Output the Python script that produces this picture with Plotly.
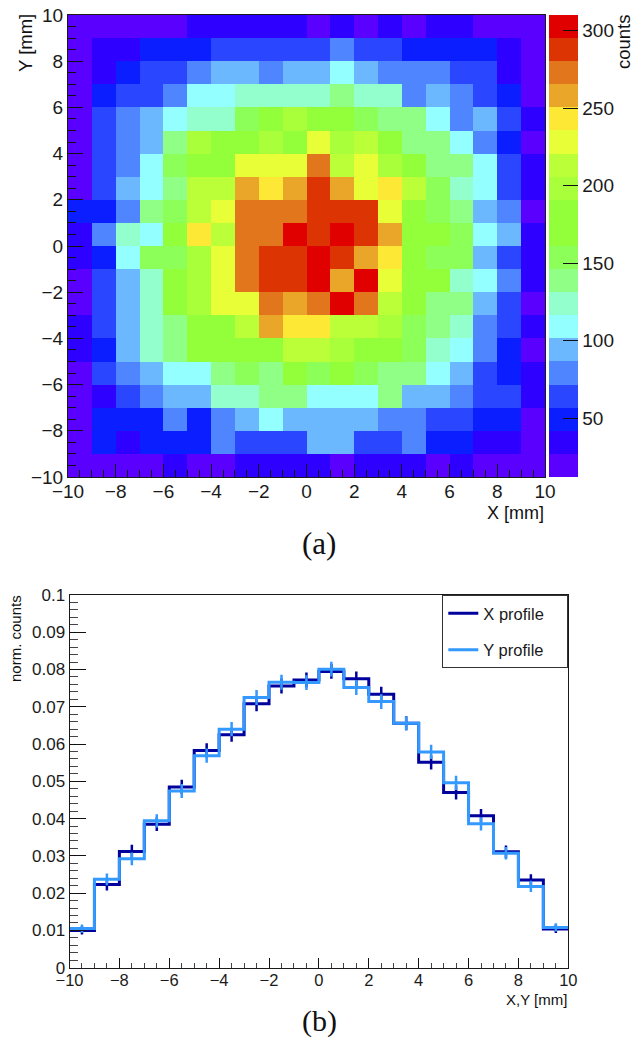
import plotly.graph_objects as go

W, H = 639, 1038

# ---------- data ----------
map_x = [-9.5, -8.5, -7.5, -6.5, -5.5, -4.5, -3.5, -2.5, -1.5, -0.5, 0.5, 1.5, 2.5, 3.5, 4.5, 5.5, 6.5, 7.5, 8.5, 9.5]
map_y = [9.5, 8.5, 7.5, 6.5, 5.5, 4.5, 3.5, 2.5, 1.5, 0.5, -0.5, -1.5, -2.5, -3.5, -4.5, -5.5, -6.5, -7.5, -8.5, -9.5]
counts = [
    [19, 19, 19, 19, 19, 34, 34, 34, 34, 34, 19, 34, 19, 34, 19, 34, 34, 19, 19, 19],
    [19, 34, 34, 49, 49, 49, 64, 64, 64, 64, 64, 79, 64, 64, 49, 49, 49, 49, 34, 19],
    [19, 34, 49, 64, 64, 79, 94, 94, 79, 94, 94, 109, 94, 79, 79, 79, 64, 64, 34, 19],
    [19, 49, 64, 64, 79, 109, 109, 124, 124, 124, 124, 139, 124, 124, 79, 94, 79, 64, 49, 19],
    [19, 64, 79, 94, 109, 124, 124, 154, 184, 198, 184, 184, 154, 139, 139, 109, 79, 94, 64, 34],
    [19, 64, 79, 94, 139, 198, 184, 184, 198, 184, 228, 198, 213, 184, 139, 139, 109, 79, 49, 19],
    [19, 64, 79, 109, 154, 184, 184, 228, 228, 228, 273, 213, 228, 198, 184, 139, 139, 109, 64, 34],
    [19, 64, 94, 109, 139, 213, 213, 258, 243, 258, 288, 258, 228, 243, 213, 154, 124, 109, 64, 34],
    [49, 49, 79, 139, 154, 213, 228, 273, 273, 273, 288, 288, 288, 228, 184, 154, 139, 94, 79, 19],
    [34, 79, 124, 109, 184, 243, 213, 273, 273, 303, 288, 303, 288, 258, 184, 184, 154, 109, 94, 34],
    [34, 49, 109, 154, 154, 198, 228, 273, 288, 288, 303, 288, 258, 243, 184, 154, 154, 94, 64, 34],
    [19, 64, 94, 124, 184, 198, 228, 273, 288, 288, 303, 258, 303, 228, 184, 184, 124, 109, 79, 34],
    [19, 64, 94, 124, 184, 198, 228, 228, 273, 258, 273, 303, 273, 213, 184, 139, 139, 94, 64, 19],
    [34, 64, 94, 124, 139, 184, 184, 213, 258, 243, 243, 213, 213, 198, 154, 139, 124, 79, 64, 34],
    [34, 49, 94, 124, 139, 184, 184, 184, 184, 213, 213, 198, 184, 184, 154, 124, 109, 79, 49, 19],
    [19, 64, 79, 94, 109, 109, 139, 154, 139, 184, 154, 184, 154, 139, 139, 109, 94, 64, 49, 34],
    [19, 34, 64, 79, 94, 94, 124, 124, 139, 139, 109, 109, 109, 139, 94, 94, 79, 64, 64, 34],
    [19, 49, 49, 49, 79, 49, 79, 94, 109, 94, 94, 94, 94, 79, 79, 64, 64, 49, 49, 19],
    [19, 49, 34, 49, 49, 49, 79, 64, 64, 64, 94, 94, 64, 64, 79, 49, 49, 34, 34, 19],
    [19, 19, 19, 19, 34, 19, 19, 34, 34, 34, 34, 19, 34, 34, 34, 19, 34, 19, 19, 19],
]
palette = ["#5a00ff", "#2d00ff", "#0a1eff", "#2a46ff", "#4f85ff", "#6cb8ff", "#93ffff", "#93ffcc",
           "#90ff85", "#8cff58", "#92ff3a", "#92ff3a", "#a8ff3a", "#baff38", "#e8ff38", "#fce835",
           "#eaa628", "#e2761c", "#dc3403", "#e00000"]
cbar_ticks = [50, 100, 150, 200, 250, 300]

bin_edges = [-10, -9, -8, -7, -6, -5, -4, -3, -2, -1, 0, 1, 2, 3, 4, 5, 6, 7, 8, 9, 10]
x_profile = [0.0100, 0.0223, 0.0312, 0.0385, 0.0485, 0.0583, 0.0625, 0.0708, 0.0756, 0.0772,
             0.0795, 0.0775, 0.0734, 0.0656, 0.0551, 0.0470, 0.0408, 0.0311, 0.0235, 0.0104]
y_profile = [0.0105, 0.0237, 0.0292, 0.0394, 0.0474, 0.0569, 0.0640, 0.0725, 0.0766, 0.0765,
             0.0801, 0.0752, 0.0714, 0.0656, 0.0579, 0.0496, 0.0386, 0.0307, 0.0218, 0.0108]
x_err = [0.0011, 0.0016, 0.0018, 0.0018, 0.0019, 0.0019, 0.0019, 0.0020, 0.0020, 0.0020,
         0.0020, 0.0020, 0.0020, 0.0019, 0.0019, 0.0019, 0.0018, 0.0017, 0.0016, 0.0011]
y_err = [0.0011, 0.0016, 0.0017, 0.0018, 0.0019, 0.0019, 0.0019, 0.0020, 0.0020, 0.0020,
         0.0020, 0.0020, 0.0020, 0.0019, 0.0019, 0.0019, 0.0018, 0.0017, 0.0015, 0.0011]

SANS = "Liberation Sans"
SERIF = "Liberation Serif"
INK = "#1a1a1a"
NAVY = "#00009c"
LIGHT = "#3399ff"
LEGEND_PAD = "\u00a0\u00a0\u00a0\u00a0"


def dx(px):
    return px / W


def dy(py):
    return 1 - py / H


colorscale = []
n = len(palette)
for i, c in enumerate(palette):
    colorscale.append([i / n, c])
    colorscale.append([(i + 1) / n, c])

fig = go.Figure()

fig.add_trace(go.Heatmap(
    x=map_x, y=map_y, z=counts, zmin=12, zmax=310, colorscale=colorscale, xaxis="x", yaxis="y",
    showlegend=False,
    colorbar=dict(
        thicknessmode="pixels", thickness=28.5, lenmode="pixels", len=462,
        x=dx(548.5), xanchor="left", y=dy(477), yanchor="bottom", xpad=0, ypad=0,
        outlinewidth=0, tickmode="array", tickvals=cbar_ticks, ticks="inside", ticklen=15,
        tickwidth=1, tickcolor="#111", tickfont=dict(family=SANS, size=19, color=INK),
    ),
))

centers = [(a + b) / 2 for a, b in zip(bin_edges[:-1], bin_edges[1:])]
for name, vals, errs, col, group in [("X profile", x_profile, x_err, NAVY, "a"),
                                     ("Y profile", y_profile, y_err, LIGHT, "b")]:
    fig.add_trace(go.Scatter(
        x=bin_edges, y=vals + vals[-1:], mode="lines", name=name + LEGEND_PAD, legendgroup=group,
        line=dict(color=col, width=3, shape="hv"), xaxis="x2", yaxis="y2",
    ))
    fig.add_trace(go.Scatter(
        x=centers, y=vals, mode="markers", marker=dict(size=1, color=col), showlegend=False,
        legendgroup=group,
        error_y=dict(type="data", array=errs, width=0, thickness=2.5, color=col), xaxis="x2", yaxis="y2",
    ))

axis_common = dict(showgrid=False, zeroline=False, showline=True, linecolor=INK, linewidth=1,
                   mirror=True, ticks="inside", tickcolor="#111", tickwidth=1)

fig.update_layout(
    width=W, height=H, autosize=False, margin=dict(l=0, r=0, t=0, b=0, autoexpand=False),
    paper_bgcolor="white", plot_bgcolor="white",
    font=dict(family=SANS, color=INK),
    xaxis=dict(domain=[dx(68), dx(545)], range=[-10, 10], dtick=2, tick0=-10, ticklen=13, anchor="y",
               ticklabelstandoff=-3,
               tickfont=dict(size=19), minor=dict(dtick=0.5, ticks="inside", ticklen=7, tickcolor="#111"),
               **axis_common),
    yaxis=dict(domain=[dy(477), dy(15)], range=[-10, 10], dtick=2, tick0=-10, ticklen=15, anchor="x",
               tickfont=dict(size=19), minor=dict(dtick=0.5, ticks="inside", ticklen=8, tickcolor="#111"),
               **axis_common),
    xaxis2=dict(domain=[dx(69.5), dx(568.3)], range=[-10, 10], dtick=2, tick0=-10, ticklen=10, anchor="y2",
                ticklabelstandoff=-3,
                tickfont=dict(size=16.5), minor=dict(dtick=0.5, ticks="inside", ticklen=5, tickcolor="#444"),
                **axis_common),
    yaxis2=dict(domain=[dy(967.7), dy(595)], range=[0, 0.1], dtick=0.01, tick0=0, ticklen=16, anchor="x2",
                tickfont=dict(size=17), minor=dict(dtick=0.002, ticks="inside", ticklen=8, tickcolor="#444"),
                **axis_common),
    showlegend=True,
    legend=dict(x=dx(568.3), xanchor="right", y=dy(595), yanchor="top", bgcolor="white",
                bordercolor="#333", borderwidth=1, font=dict(family=SANS, size=16.5, color=INK),
                tracegroupgap=12, traceorder="grouped"),
)

notes = [
    ("X [mm]", 545, 513, 18, SANS, 0, "right"),
    ("Y [mm]", 25, 43, 18.5, SANS, -90, "center"),
    ("counts", 623, 42, 18.5, SANS, -90, "center"),
    ("(a)", 319, 543, 31, SERIF, 0, "center"),
    ("norm. counts", 15, 639, 15, SANS, -90, "center"),
    ("X,Y [mm]", 568, 999, 15, SANS, 0, "right"),
    ("(b)", 319, 1021, 30, SERIF, 0, "center"),
]
for text, px, py, size, fam, ang, anchor in notes:
    fig.add_annotation(text=text, xref="paper", yref="paper", x=dx(px), y=dy(py), showarrow=False,
                       xanchor=anchor, yanchor="middle", textangle=ang, borderpad=0,
                       font=dict(family=fam, size=size, color="#111"))

fig.write_html("out.html", config={"displayModeBar": False}, post_script="document.body.style.margin='0';")
